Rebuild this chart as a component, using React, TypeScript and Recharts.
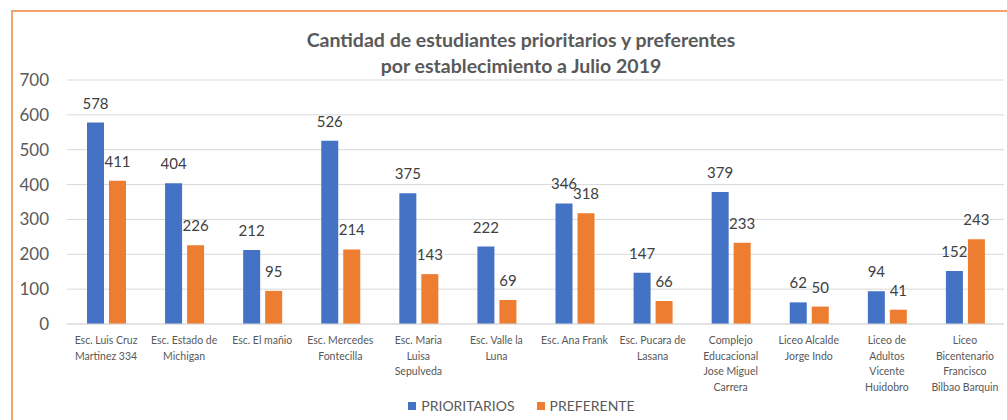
import { BarChart, Bar, XAxis, YAxis, CartesianGrid, Legend, LabelList } from 'recharts';

const establecimientos = [
    'Esc. Luis Cruz\nMartinez 334',
    'Esc. Estado de\nMichigan',
    'Esc. El mañio',
    'Esc. Mercedes\nFontecilla',
    'Esc. Maria\nLuisa\nSepulveda',
    'Esc. Valle la\nLuna',
    'Esc. Ana Frank',
    'Esc. Pucara de\nLasana',
    'Complejo\nEducacional\nJose Miguel\nCarrera',
    'Liceo Alcalde\nJorge Indo',
    'Liceo de\nAdultos\nVicente\nHuidobro',
    'Liceo\nBicentenario\nFrancisco\nBilbao Barquin',
];

const prioritarios = [578, 404, 212, 526, 375, 222, 346, 147, 379, 62, 94, 152];
const preferentes = [411, 226, 95, 214, 143, 69, 318, 66, 233, 50, 41, 243];

const yTicks = [0, 100, 200, 300, 400, 500, 600, 700];

const BLUE = '#4472C4';
const ORANGE = '#ED7D31';
const AXIS_TEXT = '#595959';
const FONT = 'Lato, "Open Sans", sans-serif';

const data = establecimientos.map((name, i) => ({
    name,
    prioritarios: prioritarios[i],
    preferente: preferentes[i],
}));

// Excel-style wrapped category labels
function CategoryTick({ x, y, payload }: any) {
    const lines = String(payload.value).split('\n');
    return (
        <text x={x} y={y} textAnchor="middle" fill={AXIS_TEXT} fontSize={10.5} fontFamily={FONT}>
            {lines.map((line, i) => (
                <tspan key={i} x={x} dy={i === 0 ? 12 : 15.7}>
                    {line}
                </tspan>
            ))}
        </text>
    );
}

function LegendContent() {
    const items = [
        { label: 'PRIORITARIOS', color: BLUE },
        { label: 'PREFERENTE', color: ORANGE },
    ];
    return (
        <div style={{ display: 'flex', justifyContent: 'center', gap: 22, paddingLeft: 36 }}>
            {items.map((item) => (
                <div key={item.label} style={{ display: 'flex', alignItems: 'center', gap: 5 }}>
                    <span style={{ display: 'inline-block', width: 8, height: 8, background: item.color }} />
                    <span style={{ fontSize: 14, color: AXIS_TEXT, fontFamily: FONT, lineHeight: '20px' }}>
                        {item.label}
                    </span>
                </div>
            ))}
        </div>
    );
}

export default function App() {
    return (
        <div
            style={{
                position: 'absolute',
                top: 0,
                left: 0,
                width: 1007,
                height: 420,
                background: '#fff',
                overflow: 'hidden',
                fontFamily: FONT,
            }}
        >
            <div
                style={{
                    position: 'absolute',
                    left: 11,
                    top: 10,
                    right: -4,
                    bottom: -4,
                    borderLeft: '2px solid #F3A36C',
                    borderTop: '2px solid #F3A36C',
                }}
            />
            <div
                style={{
                    position: 'absolute',
                    top: 27,
                    left: 21,
                    width: 1000,
                    textAlign: 'center',
                    fontSize: 19.5,
                    fontWeight: 700,
                    lineHeight: '26px',
                    color: AXIS_TEXT,
                }}
            >
                Cantidad de estudiantes prioritarios y preferentes
                <br />
                por establecimiento a Julio 2019
            </div>
            <div style={{ position: 'absolute', top: 0, left: 0 }}>
                <BarChart
                    width={1007}
                    height={420}
                    data={data}
                    margin={{ top: 80, right: 3, left: 0, bottom: 4 }}
                    barSize={17}
                    barGap={5}
                >
                    <CartesianGrid vertical={false} stroke="#d9d9d9" />
                    <XAxis
                        dataKey="name"
                        interval={0}
                        tickLine={false}
                        axisLine={{ stroke: '#d9d9d9' }}
                        height={72}
                        tick={<CategoryTick />}
                    />
                    <YAxis
                        domain={[0, 700]}
                        ticks={yTicks}
                        width={67}
                        axisLine={false}
                        tickLine={false}
                        tickMargin={12}
                        tick={{ fill: AXIS_TEXT, fontSize: 17, fontFamily: FONT }}
                    />
                    <Legend verticalAlign="bottom" content={<LegendContent />} wrapperStyle={{ left: 0, width: 1007 }} />
                    <Bar dataKey="prioritarios" name="PRIORITARIOS" fill={BLUE} isAnimationActive={false}>
                        <LabelList dataKey="prioritarios" position="top" offset={14} fill="#404040" fontSize={15} fontFamily={FONT} />
                    </Bar>
                    <Bar dataKey="preferente" name="PREFERENTE" fill={ORANGE} isAnimationActive={false}>
                        <LabelList dataKey="preferente" position="top" offset={14} fill="#404040" fontSize={15} fontFamily={FONT} />
                    </Bar>
                </BarChart>
            </div>
        </div>
    );
}
